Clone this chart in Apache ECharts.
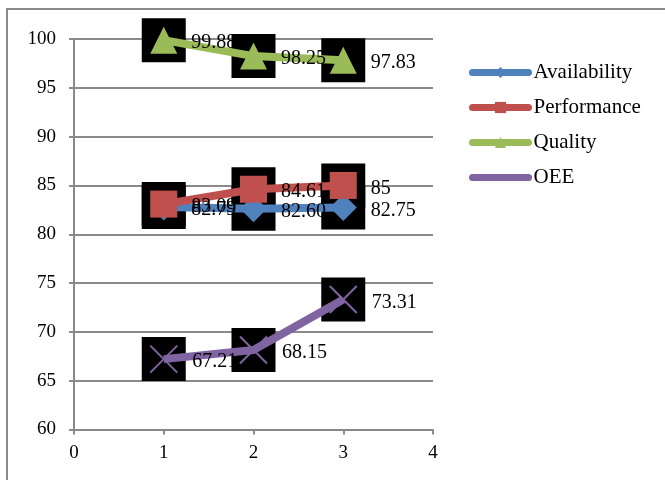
<!DOCTYPE html>
<html>
<head>
<meta charset="utf-8">
<script src="https://cdn.jsdelivr.net/npm/echarts@6/dist/echarts.min.js"></script>
<style>
  html, body { margin: 0; padding: 0; background: #fff; }
  #chart { width: 665px; height: 480px; }
</style>
</head>
<body>
<div id="chart"></div>
<script>
// Shift numbers on the horizontal axis
const shifts = [1, 2, 3];
// Metric values per shift (%)
const availability = [82.79, 82.60, 82.75];
const performance = [83.09, 84.61, 85];
const quality = [99.88, 98.25, 97.83];
const oee = [67.21, 68.15, 73.31];

const seriesNames = ['Availability', 'Performance', 'Quality', 'OEE'];
const seriesValues = [availability, performance, quality, oee];
const seriesColors = ['#4F81BD', '#C0504D', '#9BBB59', '#8064A2'];
const seriesSymbols = ['diamond', 'rect', 'triangle', 'path://M0,0L10,10M10,0L0,10'];

const serif = "'Liberation Serif', 'Times New Roman', serif";
const axisGray = '#8a8a8a';

function pairs(values) {
  return values.map((v, i) => [shifts[i], v]);
}
function fmt(v) {
  return Number.isInteger(v) ? String(v) : v.toFixed(2);
}

const series = [];
// black backing squares behind every marker
seriesValues.forEach((vals, k) => {
  series.push({
    name: 'backing-' + k,
    type: 'scatter',
    data: pairs(vals),
    symbol: 'rect',
    symbolSize: 44,
    itemStyle: { color: '#000', opacity: 1 },
    emphasis: { disabled: true },
    silent: true,
    z: 1
  });
});
// coloured lines with markers and value labels
seriesValues.forEach((vals, k) => {
  const isCross = k === 3;
  series.push({
    name: seriesNames[k],
    type: 'line',
    data: pairs(vals),
    symbol: seriesSymbols[k],
    symbolSize: 27,
    showAllSymbol: true,
    lineStyle: { color: seriesColors[k], width: 8 },
    itemStyle: isCross
      ? { color: seriesColors[k], borderColor: seriesColors[k], borderWidth: 2 }
      : { color: seriesColors[k], borderWidth: 0 },
    label: {
      show: true,
      position: 'right',
      distance: 14,
      offset: [0, 3],
      color: '#000',
      fontFamily: serif,
      fontSize: 20,
      formatter: p => fmt(p.value[1])
    },
    z: 2
  });
});

const chart = echarts.init(document.getElementById('chart'), null, { renderer: 'canvas' });
chart.setOption({
  animation: false,
  backgroundColor: '#fff',
  grid: { left: 74, right: 232, top: 39, bottom: 50.5, containLabel: false },
  xAxis: {
    type: 'value',
    min: 0, max: 4, interval: 1,
    axisLine: { show: true, lineStyle: { color: axisGray, width: 2 } },
    axisTick: { show: true, inside: false, length: 5, lineStyle: { color: axisGray, width: 2 } },
    axisLabel: { color: '#000', fontFamily: serif, fontSize: 19, margin: 14 },
    splitLine: { show: false }
  },
  yAxis: {
    type: 'value',
    min: 60, max: 100, interval: 5,
    axisLine: { show: true, lineStyle: { color: axisGray, width: 2 } },
    axisTick: { show: true, inside: false, length: 5, lineStyle: { color: axisGray, width: 2 } },
    axisLabel: { color: '#000', fontFamily: serif, fontSize: 19, margin: 18 },
    splitLine: { show: true, lineStyle: { color: axisGray, width: 2 } }
  },
  legend: {
    data: seriesNames,
    orient: 'vertical',
    left: 464,
    top: 57,
    itemWidth: 56,
    itemHeight: 14,
    itemGap: 14,
    lineStyle: { width: 7, cap: 'round' },
    itemStyle: { borderWidth: 0 },
    textStyle: { color: '#000', fontFamily: serif, fontSize: 21, lineHeight: 21 }
  },
  graphic: [{
    type: 'polyline',
    silent: true,
    shape: { points: [[7, 480], [7, 9], [665, 9]] },
    style: { stroke: axisGray, lineWidth: 2, fill: null }
  }],
  series: series
});
</script>
</body>
</html>
